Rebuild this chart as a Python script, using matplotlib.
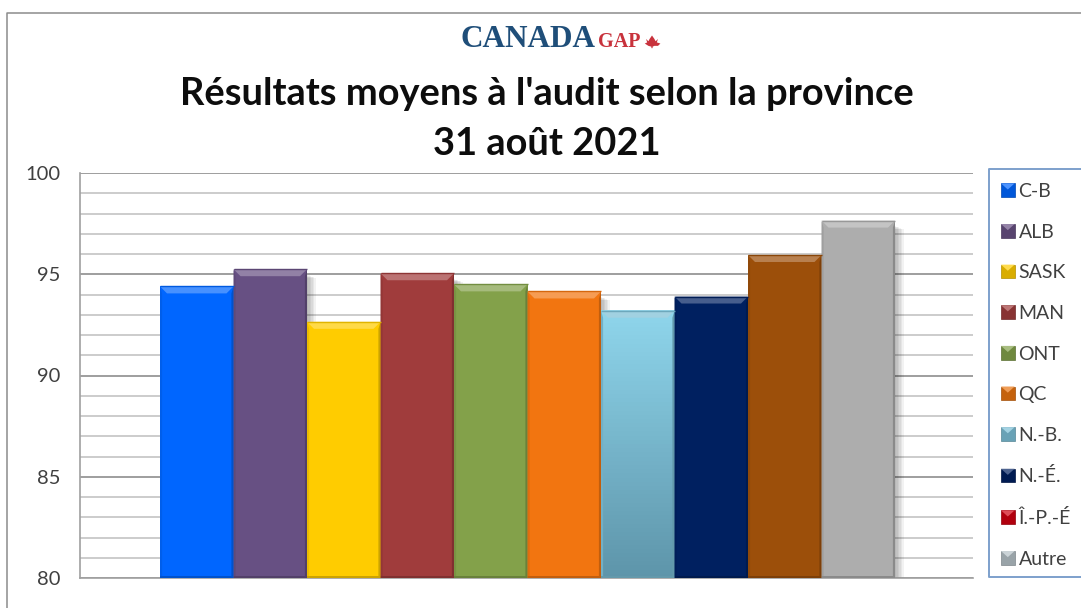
"""
Résultats moyens à l'audit selon la province, histogramme avec biseau façon Excel.
"""

import numpy as np
import matplotlib
matplotlib.use("Agg")
import matplotlib.pyplot as plt
from matplotlib.legend_handler import HandlerBase
from matplotlib.patches import Patch, Polygon, Rectangle

provinces = ["C-B", "ALB", "SASK", "MAN", "ONT", "QC", "N.-B.", "N.-É.", "Î.-P.-É", "Autre"]
resultats = [94.4, 95.25, 92.65, 95.05, 94.5, 94.15, 93.2, 93.9, 95.95, 97.65]
couleurs = ["#0066FF", "#675083", "#FFCC00", "#A03C3C", "#83A14A",
            "#F27510", "#7CBFD6", "#002060", "#9C4F0A", "#ADADAD"]
# le rouge de la légende n'est pas celui de la barre Î.-P.-É
couleurs_legende = ["#0066FF", "#675083", "#FFCC00", "#A03C3C", "#83A14A",
                    "#E8730F", "#7CBFD6", "#002060", "#D00010", "#B4C0C6"]
graduations = [80, 85, 90, 95, 100]
graduations_mineures = [v for v in range(80, 101) if v not in graduations]

W, H = 1081, 608
plt.rcParams["font.family"] = ["Lato", "DejaVu Sans"]


def nuance(couleur, facteur):
    """Éclaircit (facteur > 0) ou assombrit (facteur < 0) une couleur."""
    rgb = np.array(matplotlib.colors.to_rgb(couleur))
    if facteur > 0:
        return tuple(rgb + (1 - rgb) * facteur)
    return tuple(rgb * (1 + facteur))


def fx(px):
    return px / W


def fy(py):
    return 1 - py / H


class BiseauHandler(HandlerBase):
    """Petit carré de légende avec le biseau clair en haut."""

    def create_artists(self, legend, orig, xd, yd, width, height, fontsize, trans):
        c = orig.get_facecolor()
        x0, y0 = -xd, -yd
        e = height * 0.3
        fond = Rectangle((x0, y0), width, height, fc=nuance(c, -0.15), ec=nuance(c, -0.3),
                         lw=0.5, transform=trans)
        haut = Polygon([(x0, y0 + height), (x0 + width, y0 + height),
                        (x0 + width / 2, y0 + height - e * 1.5)],
                       fc=nuance(c, 0.3), ec="none", transform=trans)
        return [fond, haut]


fig = plt.figure(figsize=(W / 100, H / 100), dpi=100, facecolor="white")

# cadre extérieur, ouvert à droite et en bas
fig.add_artist(plt.Line2D([fx(7), fx(7), 1], [0, fy(13), fy(13)], color="#8C8C8C", lw=1.1))

ax = fig.add_axes([fx(80), fy(578), fx(973 - 80), fy(173) - fy(578)])

largeur = 73.5  # px par barre
xlim = (-0.5 - (160 - 80) / largeur, 9.5 + (973 - 895) / largeur)
dx = 7 / largeur
dy = 7 / 20.25

ax.set_yticks(graduations)
ax.set_yticks(graduations_mineures, minor=True)
ax.set_xticks([])
ax.grid(True, which="major", axis="y", color="#8E8E8E", lw=1.2, zorder=0)
ax.grid(True, which="minor", axis="y", color="#C4C4C4", lw=1.2, zorder=0)
ax.tick_params(axis="y", which="both", length=0, pad=14, labelsize=14.5, labelcolor="#404040")
ax.set_axisbelow(True)
for cote in ["top", "right"]:
    ax.spines[cote].set_visible(False)
for cote in ["left", "bottom"]:
    ax.spines[cote].set_color("#A0A0A0")
    ax.spines[cote].set_linewidth(1.2)

ax.bar(range(len(resultats)), resultats, width=1.0, color=couleurs, zorder=3)

# ombre portée douce à droite de chaque barre qui dépasse sa voisine
for i, v in enumerate(resultats):
    voisine = resultats[i + 1] if i + 1 < len(resultats) else 80
    if v <= voisine:
        continue
    for k in range(1, 7):
        ax.bar(i + 0.5, v - voisine - 0.25 - k * 0.03, bottom=voisine, width=k * 0.02, align="edge",
               color="#000000", alpha=0.05, zorder=2)

# dégradé vertical sur la barre N.-B.
i_nb = provinces.index("N.-B.")
bas_nb = np.array(matplotlib.colors.to_rgb("#5E95AA"))
haut_nb = np.array(matplotlib.colors.to_rgb("#8FD6EC"))
degrade = np.linspace(0, 1, 64)[:, None, None] * (haut_nb - bas_nb) + bas_nb
ax.imshow(degrade, origin="lower", aspect="auto", zorder=3.2,
          extent=(i_nb - 0.5, i_nb + 0.5, 80, resultats[i_nb]))
ax.set_xlim(*xlim)
ax.set_ylim(80, 100)

# biseaux : bande claire en haut, côtés et bas plus sombres
for i, (v, c) in enumerate(zip(resultats, couleurs)):
    g, d = i - 0.5, i + 0.5
    ax.add_patch(Polygon([(g, v), (d, v), (d - dx, v - dy), (g + dx, v - dy)],
                         fc=nuance(c, 0.28), ec="none", zorder=4))
    ax.add_patch(Polygon([(g, v), (g + dx * 0.3, v - dy), (g + dx * 0.3, 80), (g, 80)],
                         fc=nuance(c, -0.08), ec="none", zorder=4))
    ax.add_patch(Polygon([(d, v), (d - dx * 0.3, v - dy), (d - dx * 0.3, 80), (d, 80)],
                         fc=nuance(c, -0.2), ec="none", zorder=4))
    ax.add_patch(Rectangle((g, 80), 1, 0.12, fc=nuance(c, -0.2), ec="none", zorder=4))
    ax.plot([g, d], [v, v], color=nuance(c, -0.12), lw=1, zorder=5, solid_capstyle="butt")

# logo et titre
fig.text(fx(460), fy(47), "CANADA", family=["Liberation Serif"], weight="bold",
         fontsize=22.5, color="#1F4E79", ha="left", va="baseline")
fig.text(fx(598), fy(47), "GAP", family=["Liberation Serif"], weight="bold",
         fontsize=14.5, color="#C8323C", ha="left", va="baseline")
feuille_x = np.array([0, 2, 3, 5, 7, 8, 10, 9, 12, 10, 7, 5.5, 5.5, 4.5, 4.5, 2, -1, 1, 0]) * 1.2 + 646
feuille_y = 47 - np.array([7, 5, 7, 10, 7, 5, 7, 4, 3, 1, 1, 0.3, -1, -1, 0.3, 1, 3, 4, 7]) * 1.15
fig.add_artist(Polygon(np.column_stack([fx(feuille_x), fy(feuille_y)]), fc="#C8323C", ec="none"))

fig.text(fx(547), fy(105), "Résultats moyens à l'audit selon la province", weight="bold",
         fontsize=27.4, color="#0D0D0D", ha="center", va="baseline")
fig.text(fx(547), fy(155), "31 août 2021", weight="bold",
         fontsize=27.4, color="#0D0D0D", ha="center", va="baseline")

# cadre de la légende, ouvert à droite
fig.add_artist(plt.Line2D([1, fx(989), fx(989), 1], [fy(169), fy(169), fy(577), fy(577)],
                          color="#7DA0CC", lw=1.4))

poignees = [Patch(facecolor=c, label=p) for p, c in zip(provinces, couleurs_legende)]
fig.legend(handles=poignees, loc="upper left", bbox_to_anchor=(fx(1001), fy(183)),
           bbox_transform=fig.transFigure, frameon=False, fontsize=14, labelcolor="#404040",
           handler_map={Patch: BiseauHandler()}, handlelength=0.7, handleheight=0.7,
           handletextpad=0.2, labelspacing=1.215, borderpad=0, borderaxespad=0)

fig.savefig("out.png", dpi=100, facecolor="white")
